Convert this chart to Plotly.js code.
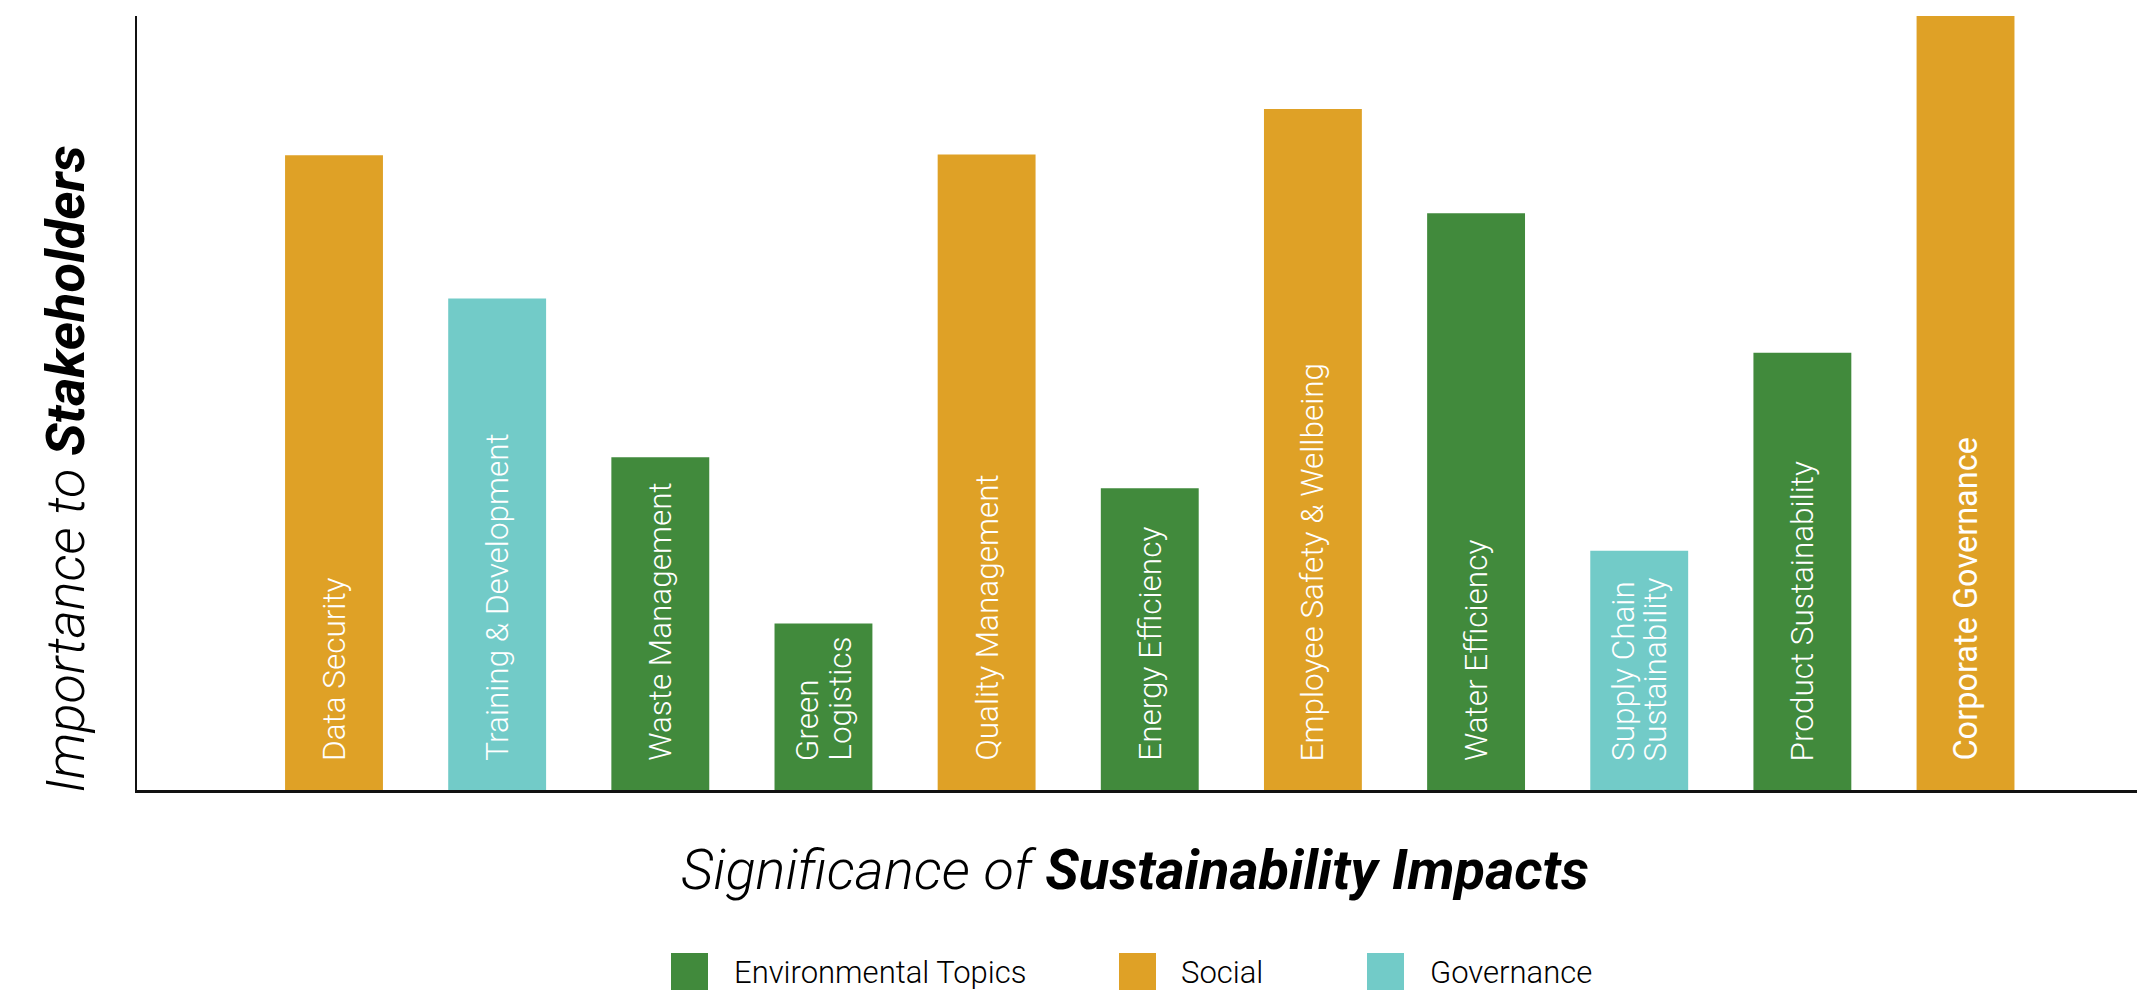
<!DOCTYPE html>
<html>
<head>
<meta charset="utf-8">
<script src="https://cdn.plot.ly/plotly-3.0.1.min.js"></script>
<style>
  html, body { margin: 0; padding: 0; background: #ffffff; }
  #chart { width: 2153px; height: 994px; }
</style>
</head>
<body>
<div id="chart"></div>
<script>
// ---- data ----
var topics = [
  "Data Security",
  "Training & Development",
  "Waste Management",
  "Green<br>Logistics",
  "Quality Management",
  "Energy Efficiency",
  "Employee Safety & Wellbeing",
  "Water Efficiency",
  "Supply Chain<br>Sustainability",
  "Product Sustainability",
  "Corporate Governance"
];
var importance = [82.0, 63.5, 43.0, 21.5, 82.1, 39.0, 88.0, 74.5, 30.9, 56.5, 100];
var topicGroup = ["Social", "Governance", "Environmental Topics", "Environmental Topics",
  "Social", "Environmental Topics", "Social", "Environmental Topics", "Governance",
  "Environmental Topics", "Social"];
var groupNames = ["Environmental Topics", "Social", "Governance"];
var groupColors = { "Environmental Topics": "#418A3C", "Social": "#DFA126", "Governance": "#72CBC8" };
var emphasised = ["Corporate Governance"];

// ---- geometry helpers (pixel layout) ----
var W = 2153, H = 994;
var M = { l: 137, r: 16, t: 16, b: 204 };
var PW = W - M.l - M.r, PH = H - M.t - M.b;
function px(xp) { return (xp - M.l) / PW; }
function py(yp) { return (H - M.b - yp) / PH; }

var LABEL_FONT = "Roboto, 'Liberation Sans', Arial, sans-serif";

// ---- traces ----
var positions = topics.map(function (_, i) { return i; });
var traces = groupNames.map(function (g) {
  var xs = [], ys = [];
  topics.forEach(function (t, i) {
    if (topicGroup[i] === g) { xs.push(positions[i]); ys.push(importance[i]); }
  });
  return {
    type: "bar", name: g, x: xs, y: ys, width: 0.6,
    marker: { color: groupColors[g], line: { width: 0 } },
    hoverinfo: "skip", showlegend: false
  };
});

// ---- annotations: in-bar labels ----
var annotations = [];
var LINE_GAP = 32.5;
topics.forEach(function (t, i) {
  var lines = t.split("<br>");
  var n = lines.length;
  var heavy = emphasised.indexOf(t) >= 0;
  lines.forEach(function (ln, k) {
    annotations.push({
      xref: "x", yref: "y", x: positions[i], y: 0,
      text: ln, showarrow: false, textangle: -90,
      xanchor: "center", yanchor: "bottom", align: "left",
      xshift: (k - (n - 1) / 2) * LINE_GAP, yshift: 27,
      font: { family: LABEL_FONT, size: heavy ? 32.5 : 31.5, color: "#ffffff", weight: heavy ? 400 : 300 }
    });
  });
});

// axis titles
annotations.push({
  xref: "paper", yref: "paper", x: px(1135), y: py(870),
  xanchor: "center", yanchor: "middle", showarrow: false,
  text: "<i>Significance of </i><b><i>Sustainability Impacts</i></b>",
  font: { family: LABEL_FONT, size: 56, color: "#000000", weight: 300 }
});
annotations.push({
  xref: "paper", yref: "paper", x: px(66), y: py(469),
  xanchor: "center", yanchor: "middle", showarrow: false, textangle: -90,
  text: "<i>Importance to </i><b><i>Stakeholders</i></b>",
  font: { family: LABEL_FONT, size: 54, color: "#000000", weight: 300 }
});

// ---- custom legend ----
var shapes = [];
var legendItems = [
  { sq: 671, tx: 732 },
  { sq: 1119, tx: 1179 },
  { sq: 1367, tx: 1428 }
];
groupNames.forEach(function (g, i) {
  var it = legendItems[i];
  shapes.push({
    type: "rect", xref: "paper", yref: "paper",
    x0: px(it.sq), x1: px(it.sq + 37), y0: py(990), y1: py(953),
    fillcolor: groupColors[g], line: { width: 0 }
  });
  annotations.push({
    xref: "paper", yref: "paper", x: px(it.tx), y: py(972),
    xanchor: "left", yanchor: "middle", showarrow: false, text: g,
    font: { family: LABEL_FONT, size: 31, color: "#000000", weight: 300 }
  });
});

var layout = {
  width: W, height: H,
  margin: M,
  paper_bgcolor: "#ffffff", plot_bgcolor: "#ffffff",
  barmode: "overlay",
  showlegend: false,
  xaxis: {
    range: [-1.2075, 11.051], showgrid: false, zeroline: false,
    showticklabels: false, ticks: "", showline: true, linecolor: "#111111", linewidth: 2.5,
    fixedrange: true
  },
  yaxis: {
    range: [0, 100], showgrid: false, zeroline: false,
    showticklabels: false, ticks: "", showline: true, linecolor: "#111111", linewidth: 2.5,
    fixedrange: true
  },
  annotations: annotations,
  shapes: shapes
};

Plotly.newPlot("chart", traces, layout, { staticPlot: true, displayModeBar: false });
</script>
</body>
</html>
